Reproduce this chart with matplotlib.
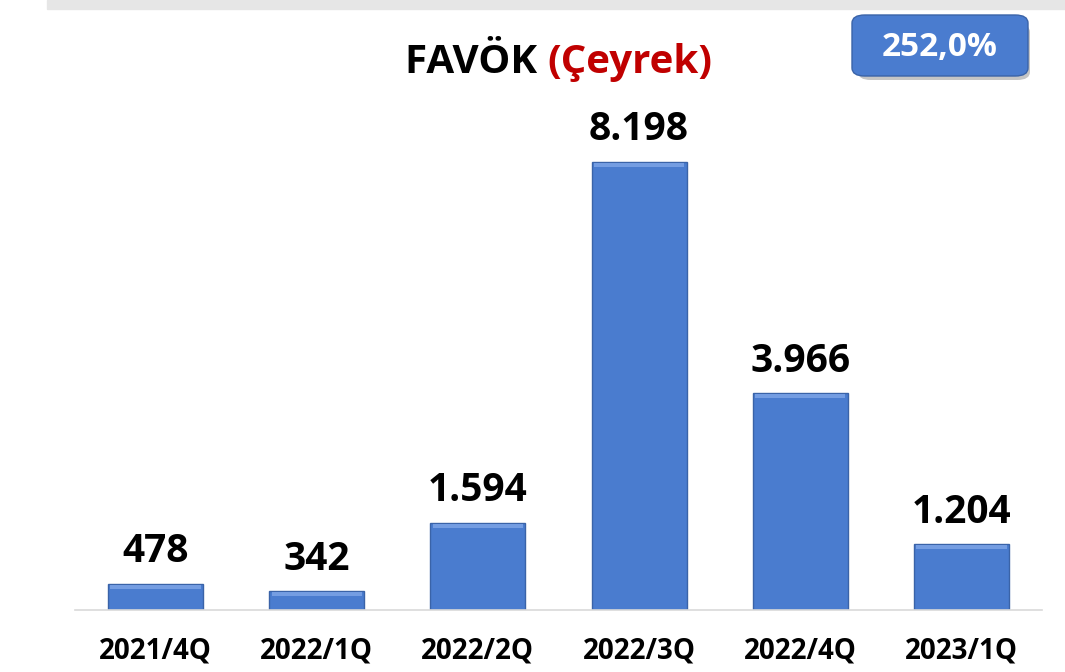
import matplotlib.pyplot as plt
from matplotlib.patches import FancyBboxPatch, Rectangle

quarters = ["2021/4Q", "2022/1Q", "2022/2Q", "2022/3Q", "2022/4Q", "2023/1Q"]
favok = [478, 342, 1594, 8198, 3966, 1204]
value_labels = ["478", "342", "1.594", "8.198", "3.966", "1.204"]
badge_text = "252,0%"

plt.rcParams['font.family'] = ['Open Sans', 'DejaVu Sans']

fig = plt.figure(figsize=(10.65, 6.72), dpi=100)
ax = fig.add_axes([0.0704, 0.0923, 0.908, 0.732])

x = range(len(quarters))
bars = ax.bar(x, favok, width=0.59, color='#4A7CCF', edgecolor='#3A63A8', linewidth=1.0, zorder=2)

# light bevel line along the top of each bar
for b in bars:
    h = b.get_height()
    ax.add_patch(Rectangle((b.get_x() + 0.015, h - 90), b.get_width() - 0.03, 70,
                           color='#7FA6E8', alpha=0.8, zorder=3, linewidth=0))

for xi, v, lab in zip(x, favok, value_labels):
    ax.annotate(lab, (xi, v), xytext=(0, 9), textcoords='offset points',
                ha='center', va='bottom', fontsize=28, fontweight='bold', color='black')

ax.set_xlim(-0.5, 5.5)
ax.set_ylim(0, 9000)
ax.set_xticks(list(x))
ax.set_xticklabels(quarters, fontsize=20, fontweight='bold')
ax.tick_params(axis='x', length=0, pad=19)
ax.set_yticks([])
for s in ['top', 'left', 'right']:
    ax.spines[s].set_visible(False)
ax.spines['bottom'].set_color('#D9D9D9')
ax.spines['bottom'].set_linewidth(1.2)

# title
fig.text(0.514, 0.907, "FAVÖK ", ha='right', va='center', fontsize=29, fontweight='bold', color='black')
fig.text(0.514, 0.907, "(Çeyrek)", ha='left', va='center', fontsize=29, fontweight='bold', color='#C00000')

# gray band on top
fig.patches.append(Rectangle((47 / 1065, 663 / 672), 1 - 47 / 1065, 9 / 672, transform=fig.transFigure,
                             color='#E6E6E6', zorder=0))

# badge with shadow
fig.patches.append(FancyBboxPatch((858 / 1065, 592 / 672), 172 / 1065, 56 / 672,
                                  boxstyle='round,pad=0,rounding_size=0.012', transform=fig.transFigure,
                                  facecolor='#7F7F7F', edgecolor='none', alpha=0.45, zorder=1))
fig.patches.append(FancyBboxPatch((852 / 1065, 596 / 672), 176 / 1065, 61 / 672,
                                  boxstyle='round,pad=0,rounding_size=0.012', transform=fig.transFigure,
                                  facecolor='#4A7CCF', edgecolor='#3A63A8', linewidth=1, zorder=2))
fig.text(940 / 1065, 625 / 672, badge_text, ha='center', va='center', fontsize=24, fontweight='bold',
         color='white', zorder=3)

fig.savefig('out.png', dpi=100)
